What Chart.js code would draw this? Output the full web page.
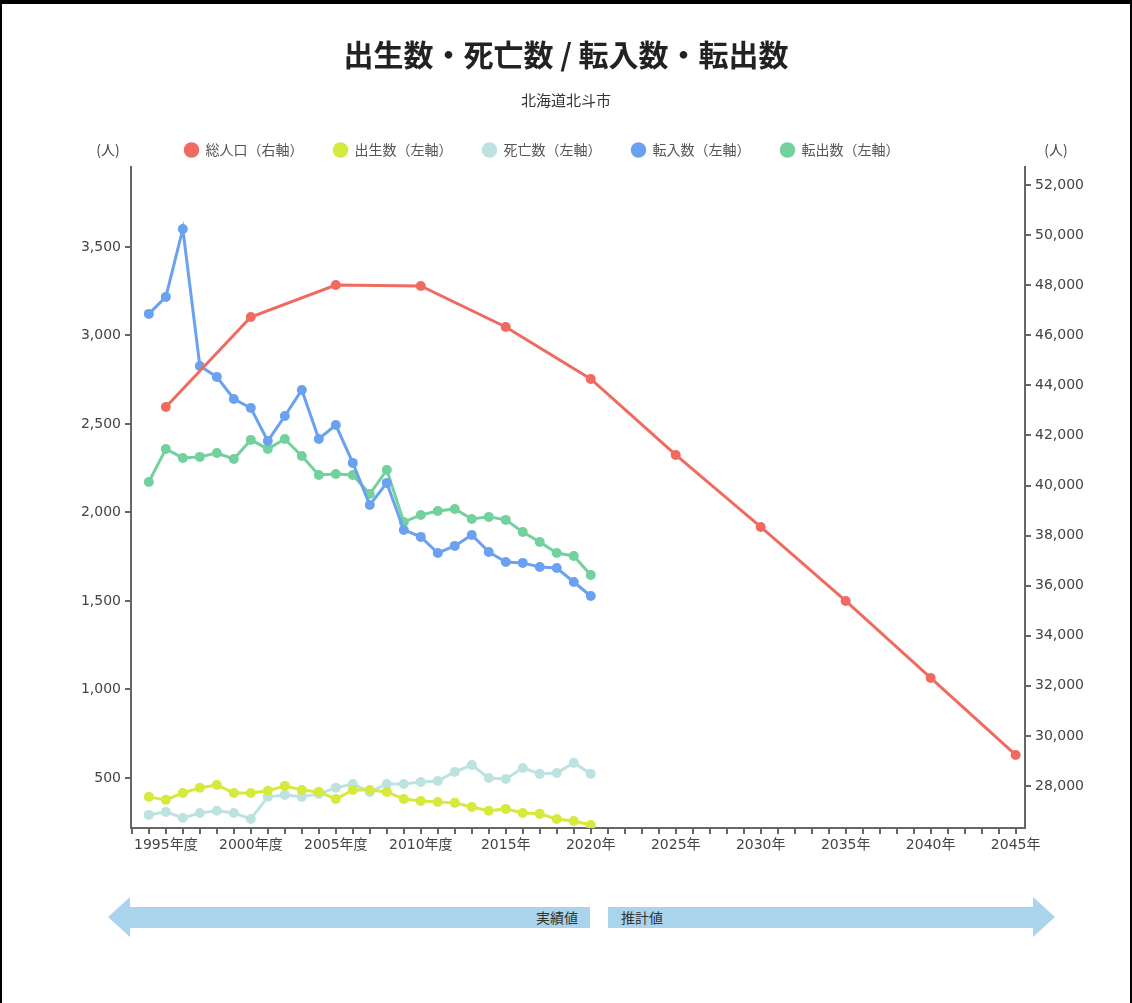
<!DOCTYPE html>
<html>
<head>
<meta charset="utf-8">
<script src="https://cdn.jsdelivr.net/npm/chart.js@4.4.1/dist/chart.umd.min.js"></script>
<style>
html,body{margin:0;padding:0;background:#fff;}
#wrap{position:relative;width:1132px;height:1003px;overflow:hidden;background:#fff;}
#frame{position:absolute;left:0;top:0;width:1132px;height:1003px;box-sizing:border-box;border-top:4px solid #000;border-left:2px solid #000;border-right:2px solid #000;pointer-events:none;}
#box{position:absolute;left:0;top:0;width:1132px;height:880px;}
.arrow{position:absolute;background:#a9d4ec;}
.lab{position:absolute;font-family:"Noto Sans CJK JP",sans-serif;font-size:14px;line-height:20px;color:#333;}
</style>
</head>
<body>
<div id="wrap">
  <div id="box"><canvas id="cv"></canvas></div>
  <div class="arrow" style="left:108px;top:897px;width:482px;height:40px;clip-path:polygon(0 50%,22px 0,22px 10px,100% 10px,100% 31px,22px 31px,22px 100%);"></div>
  <div class="arrow" style="left:608px;top:897px;width:447px;height:40px;clip-path:polygon(0 10px,calc(100% - 22px) 10px,calc(100% - 22px) 0,100% 50%,calc(100% - 22px) 100%,calc(100% - 22px) 31px,0 31px);"></div>
  <div class="lab" style="left:536px;top:907px;">実績値</div>
  <div class="lab" style="left:621px;top:907px;">推計値</div>
  <div id="frame"></div>
</div>
<script>
// ---- data ----
const actualYears = [1994,1995,1996,1997,1998,1999,2000,2001,2002,2003,2004,2005,2006,2007,2008,2009,2010,2011,2012,2013,2014,2015,2016,2017,2018,2019,2020];
const births   = [393,376,415,444,460,415,415,427,455,432,421,381,432,432,421,381,370,364,359,336,314,325,302,297,268,257,234];
const deaths   = [291,308,274,302,314,302,268,393,404,393,410,444,466,421,466,466,477,483,534,573,500,494,556,523,528,585,523];
const moveIn   = [3122,3218,3602,2828,2766,2641,2590,2404,2545,2692,2415,2494,2280,2042,2167,1901,1862,1771,1811,1873,1777,1720,1715,1692,1686,1607,1528];
const moveOut  = [2172,2359,2308,2314,2336,2302,2410,2359,2415,2319,2212,2217,2212,2104,2240,1946,1986,2008,2020,1963,1975,1958,1890,1833,1771,1754,1647];
const popYears = [1995,2000,2005,2010,2015,2020,2025,2030,2035,2040,2045];
const population = [43135,46729,48007,47967,46330,44254,41219,38344,35389,32314,29240];
const xTickYears  = [1995,2000,2005,2010,2015,2020,2025,2030,2035,2040,2045];
const xTickLabels = ['1995年度','2000年度','2005年度','2010年度','2015年','2020年','2025年','2030年','2035年','2040年','2045年'];
const leftTickStep = 500;
const rightTickStep = 2000;
const seriesNames = ['総人口（右軸）','出生数（左軸）','死亡数（左軸）','転入数（左軸）','転出数（左軸）'];
const titleText = '出生数・死亡数 / 転入数・転出数';
const subtitleText = '北海道北斗市';
const unitText = '(人)';

// ---- styles ----
const C_RED='#f06b5f', C_BIRTH='#d5ea3d', C_DEATH='#bce3e2', C_IN='#6aa1f0', C_OUT='#72d19c';
const NUM_FONT = '"DejaVu Sans", "Noto Sans CJK JP", sans-serif';
const JP_FONT = '"Noto Sans CJK JP", sans-serif';
const fmt = v => String(v).replace(/\B(?=(\d{3})+(?!\d))/g, ',');

function pts(xs, ys){ return xs.map((x,i)=>({x:x, y:ys[i]})); }
function ds(label, xs, ys, color, axis){
  return {label, data:pts(xs,ys), borderColor:color, backgroundColor:color, borderWidth:3,
    pointRadius:5, pointHoverRadius:5, pointBorderWidth:0, pointBackgroundColor:color,
    yAxisID:axis, tension:0, fill:false};
}
function stepTicks(step){
  return s => { const t=[]; for(let v=Math.ceil(s.min/step)*step; v<=s.max; v+=step) t.push({value:v}); s.ticks=t; };
}

const shiftLegend = { id:'shiftLegend', afterLayout(chart){ const l=chart.legend; if(l){ l.left-=24; l.right-=24; } } };
const unitLabels = { id:'unitLabels', afterDraw(chart){
  const ctx=chart.ctx, l=chart.legend; const yy = l.top + 37;
  ctx.save(); ctx.font='14px '+JP_FONT; ctx.fillStyle='#444'; ctx.textAlign='center'; ctx.textBaseline='middle';
  ctx.fillText(unitText, chart.scales.y.right-23, yy);
  ctx.fillText(unitText, chart.scales.y1.left+31, yy);
  ctx.restore(); } };

new Chart(document.getElementById('cv'), {
  type:'line',
  data:{ datasets:[
    ds(seriesNames[0], popYears, population, C_RED, 'y1'),
    ds(seriesNames[1], actualYears, births, C_BIRTH, 'y'),
    ds(seriesNames[2], actualYears, deaths, C_DEATH, 'y'),
    ds(seriesNames[3], actualYears, moveIn, C_IN, 'y'),
    ds(seriesNames[4], actualYears, moveOut, C_OUT, 'y')
  ]},
  options:{
    responsive:true, maintainAspectRatio:false, animation:false, devicePixelRatio:1,
    layout:{padding:0},
    plugins:{
      tooltip:{enabled:false},
      title:{display:true, text:titleText, color:'#222', font:{family:JP_FONT, size:30, weight:'bold'}, padding:{top:37,bottom:0}},
      subtitle:{display:true, text:subtitleText, color:'#333', font:{family:JP_FONT, size:15}, padding:{top:18,bottom:4}},
      legend:{display:true, position:'top', labels:{usePointStyle:true, pointStyle:'circle', boxHeight:11, padding:30, color:'#555', font:{family:JP_FONT, size:14}}}
    },
    scales:{
      x:{ type:'linear', min:1992.95, max:2045.55,
        afterBuildTicks:stepTicks(1),
        afterFit:s=>{ s.height=52; },
        ticks:{ autoSkip:false, maxRotation:0, minRotation:0, color:'#444', padding:3, font:{family:NUM_FONT,size:14},
          callback:v=>{ const i=xTickYears.indexOf(v); return i>=0 ? xTickLabels[i] : ''; } },
        grid:{ drawOnChartArea:false, drawTicks:true, tickLength:6, color:'#666', lineWidth:2 },
        border:{ display:true, color:'#666', width:2 }
      },
      y:{ type:'linear', position:'left', min:217, max:3952,
        afterBuildTicks:stepTicks(leftTickStep),
        afterFit:s=>{ s.width=131; },
        ticks:{ autoSkip:false, color:'#444', padding:4, font:{family:NUM_FONT,size:14}, callback:v=>fmt(v) },
        grid:{ drawOnChartArea:false, drawTicks:true, tickLength:6, color:'#666', lineWidth:2 },
        border:{ display:true, color:'#666', width:2 }
      },
      y1:{ type:'linear', position:'right', min:26323, max:52719,
        afterBuildTicks:stepTicks(rightTickStep),
        afterFit:s=>{ s.width=107; },
        ticks:{ autoSkip:false, color:'#444', padding:4, font:{family:NUM_FONT,size:14}, callback:v=>fmt(v) },
        grid:{ drawOnChartArea:false, drawTicks:true, tickLength:6, color:'#666', lineWidth:2 },
        border:{ display:true, color:'#666', width:2 }
      }
    }
  },
  plugins:[shiftLegend, unitLabels]
});
</script>
</body>
</html>
